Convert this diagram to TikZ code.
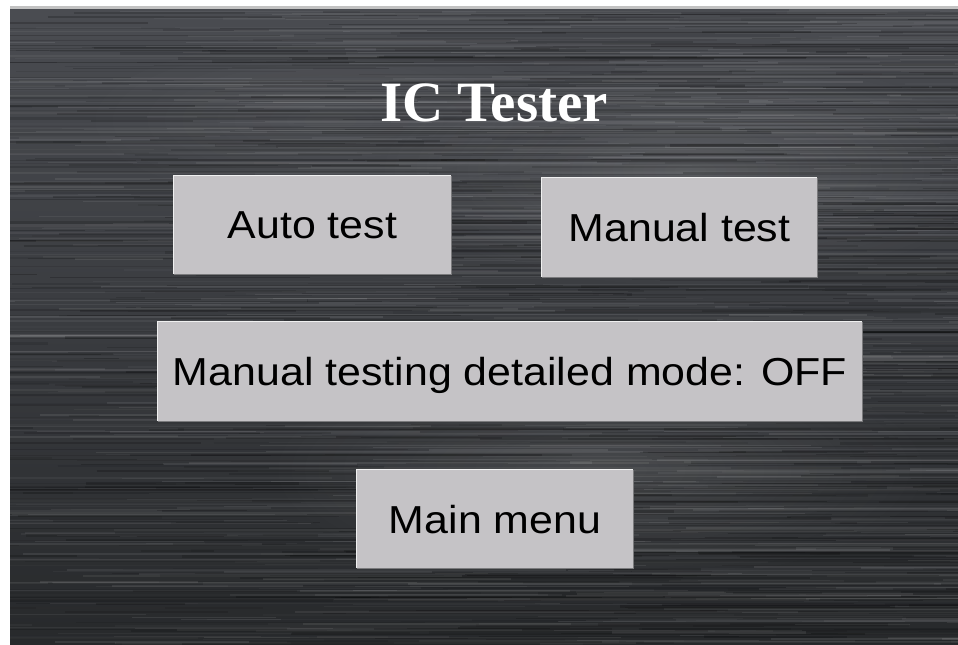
\documentclass[tikz,border=0pt]{standalone}
\usepackage{fontspec}
\newfontfamily\btnfont{Liberation Sans}
\newfontfamily\titlefont{Liberation Serif}
\usetikzlibrary{fadings}
\tikzfading[name=glowfade, inner color=transparent!0, outer color=transparent!100]
\definecolor{btnfill}{HTML}{C5C3C6}
\definecolor{btnlight}{HTML}{F0F0F0}
\definecolor{btndark}{HTML}{7A7A7C}
\definecolor{paneltop}{HTML}{4A4C51}
\definecolor{panelmid}{HTML}{393B3F}
\definecolor{panelbot}{HTML}{26282A}
\definecolor{strip}{HTML}{C2C2C2}
\tikzset{
  btn/.style={fill=btnfill, inner sep=0pt, text=black,
    font=\btnfont\fontsize{39bp}{46bp}\selectfont,
    text height=28bp, text depth=0pt},
  lightedge/.style={draw=btnlight, line width=1.2bp},
  darkedge/.style={draw=btndark, line width=1.2bp},
  titlestyle/.style={text=white, inner sep=0pt,
    font=\titlefont\bfseries\fontsize{57bp}{62bp}\selectfont}
}
\newcommand{\hstretch}[1]{\scalebox{1.1}[1]{#1}}
\begin{document}
\begin{tikzpicture}[x=1bp,y=-1bp]
\useasboundingbox (0,0) rectangle (958,645);
\fill[white] (0,0) rectangle (958,645);
\fill[strip] (10,6) rectangle (970,10);
% panel
\begin{scope}
\clip (10,10) rectangle (975,660);
\shade[top color=paneltop, bottom color=panelbot, middle color=panelmid] (10,10) rectangle (975,660);
\fill[white, path fading=glowfade, fill opacity=0.12] (690,170) ellipse (320 and 120);
\fill[white, path fading=glowfade, fill opacity=0.10] (600,470) ellipse (340 and 120);
\fill[white, path fading=glowfade, fill opacity=0.06] (330,120) ellipse (260 and 90);
\pgfmathsetseed{4242}
\foreach \i in {1,...,900}{
  \pgfmathsetmacro\yy{10+rnd*650}
  \pgfmathsetmacro\xa{-100+rnd*1050}
  \pgfmathsetmacro\len{80+rnd*500}
  \pgfmathsetmacro\op{0.02+0.07*rnd}
  \pgfmathsetmacro\lw{0.6+1.6*rnd}
  \draw[line width=\lw bp, white, opacity=\op] (\xa,\yy) -- ++(\len,0);
}
\foreach \i in {1,...,900}{
  \pgfmathsetmacro\yy{10+rnd*650}
  \pgfmathsetmacro\xa{-100+rnd*1050}
  \pgfmathsetmacro\len{80+rnd*500}
  \pgfmathsetmacro\op{0.05+0.15*rnd}
  \pgfmathsetmacro\lw{0.6+2*rnd}
  \draw[line width=\lw bp, black, opacity=\op] (\xa,\yy) -- ++(\len,0);
}
\end{scope}
% title
\node[titlestyle, anchor=base] (title) at (494,122) {IC Tester};
% buttons
\node[btn, minimum width=277bp, minimum height=98bp] (auto) at (312.5,225) {\hstretch{Auto test}};
\node[btn, minimum width=275bp, minimum height=99bp] (manual) at (679.5,227.5) {\hstretch{Manual test}};
\node[btn, minimum width=704bp, minimum height=99bp] (detail) at (510,371.5) {\hstretch{Manual testing detailed mode: OFF}};
\node[btn, minimum width=276bp, minimum height=98bp] (mainmenu) at (495,519) {\hstretch{Main menu}};
\foreach \b in {auto,manual,detail,mainmenu}{
  \draw[darkedge] (\b.south west) -| (\b.north east);
  \draw[lightedge] (\b.south west) |- (\b.north east);
}
\end{tikzpicture}
\end{document}
